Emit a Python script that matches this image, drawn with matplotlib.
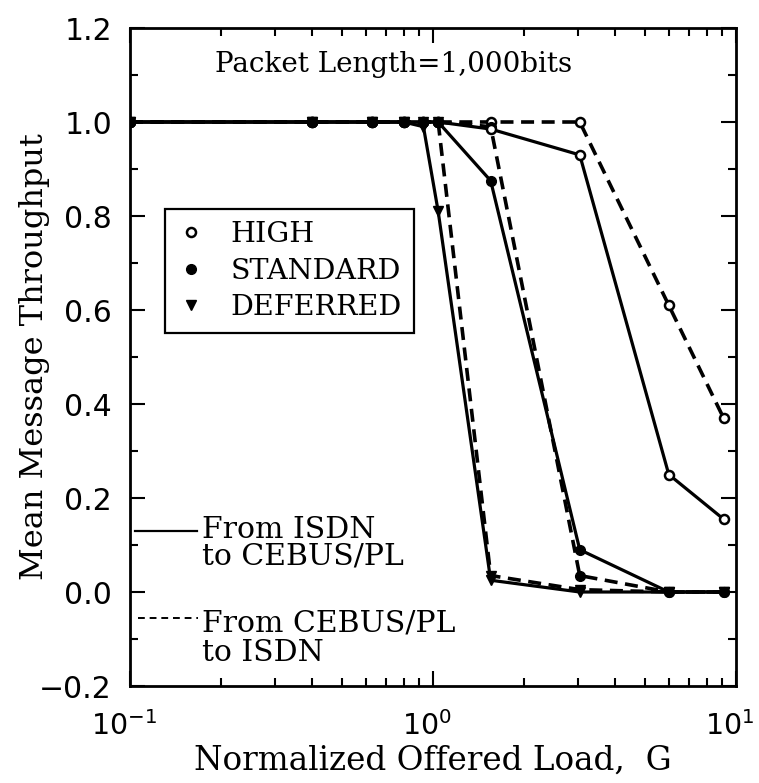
import matplotlib
matplotlib.use("Agg")
import matplotlib.pyplot as plt
import matplotlib.transforms as mtransforms
from matplotlib.ticker import FixedLocator, FuncFormatter, LogLocator, NullFormatter
from matplotlib.lines import Line2D

# Normalized offered load G at which throughput was evaluated
load = [0.1, 0.4, 0.63, 0.8, 0.93, 1.04, 1.55, 3.05, 6.0, 9.1]

# Mean message throughput, ISDN -> CEBUS/PL (solid)
high_isdn = [1.0, 1.0, 1.0, 1.0, 1.0, 1.0, 0.985, 0.93, 0.25, 0.155]
std_isdn = [1.0, 1.0, 1.0, 1.0, 1.0, 1.0, 0.875, 0.09, 0.0, 0.0]
def_isdn = [1.0, 1.0, 1.0, 1.0, 0.99, 0.81, 0.025, 0.0, 0.0, 0.0]

# Mean message throughput, CEBUS/PL -> ISDN (dashed)
high_cebus = [1.0, 1.0, 1.0, 1.0, 1.0, 1.0, 1.0, 1.0, 0.61, 0.37]
std_cebus = [1.0, 1.0, 1.0, 1.0, 1.0, 1.0, 0.99, 0.035, 0.0, 0.0]
def_cebus = [1.0, 1.0, 1.0, 1.0, 1.0, 1.0, 0.035, 0.005, 0.0, 0.0]

priorities = ["HIGH", "STANDARD", "DEFERRED"]
y_ticks = [-0.2, 0.0, 0.2, 0.4, 0.6, 0.8, 1.0, 1.2]

SERIF = "DejaVu Serif"
LW = 2.3

fig = plt.figure(figsize=(7.59, 7.83), dpi=100)
# plot frame: x 130..736 px, y 28..686 px (from top)
ax = fig.add_axes([130 / 759, 1 - 686 / 783, 606 / 759, 658 / 783])
ax.set_xscale("log")
ax.set_xlim(0.1, 10)
ax.set_ylim(-0.2, 1.2)

styles = {
    "HIGH": dict(marker="o", mfc="white", mec="black", ms=6.5, mew=1.8),
    "STANDARD": dict(marker="o", mfc="black", mec="black", ms=7),
    "DEFERRED": dict(marker="v", mfc="black", mec="black", ms=7),
}

dashed = [high_cebus, std_cebus, def_cebus]
solid = [high_isdn, std_isdn, def_isdn]
for name, vals in zip(priorities, dashed):
    ax.plot(load, vals, color="black", lw=LW + 0.3, ls=(0, (3.6, 2.1)), **styles[name], zorder=3)
for name, vals in zip(priorities, solid):
    ax.plot(load, vals, color="black", lw=LW, ls="-", **styles[name], zorder=4)

# frame and ticks
for sp in ax.spines.values():
    sp.set_linewidth(2.0)
ax.yaxis.set_major_locator(FixedLocator(y_ticks))
ax.yaxis.set_minor_locator(FixedLocator([v / 10 for v in range(-2, 13)]))
ax.yaxis.set_major_formatter(FuncFormatter(lambda v, p: f"{v:.1f}".replace("-", "\u2212")))
ax.xaxis.set_major_locator(LogLocator(base=10, numticks=10))
ax.xaxis.set_minor_locator(LogLocator(base=10, subs=range(2, 10), numticks=10))
ax.xaxis.set_minor_formatter(NullFormatter())
ax.tick_params(which="both", direction="in", top=True, right=True, width=1.5)
ax.tick_params(which="major", length=11)
ax.tick_params(axis="y", which="major", pad=13, labelsize=21.5)
ax.tick_params(axis="x", which="major", pad=18, labelsize=20.5)
ax.tick_params(which="minor", length=6)

# nudge decade labels left so the last one stays inside the canvas
shift = mtransforms.ScaledTranslation(-6 / 100, 0, fig.dpi_scale_trans)
for lbl in ax.get_xticklabels():
    lbl.set_transform(lbl.get_transform() + shift)

ax.set_xlabel("Normalized Offered Load,  G", family=SERIF, fontsize=23.5, labelpad=3)
ax.set_ylabel("Mean Message Throughput", family=SERIF, fontsize=23)
ax.yaxis.set_label_coords((50 - 130) / 606, 0.5)

ax.text((215 - 130) / 606, (686 - 64) / 658, "Packet Length=1,000bits",
        transform=ax.transAxes, family=SERIF, fontsize=20, ha="left", va="center")

# priority legend (markers only)
handles = [Line2D([], [], ls="none", color="black", **styles[n]) for n in priorities]
leg = ax.legend(handles, priorities, loc="upper left",
                bbox_to_anchor=((165 - 130) / 606, (686 - 209) / 658),
                borderaxespad=0, frameon=True, fancybox=False, edgecolor="black",
                framealpha=1, handlelength=1.0, handletextpad=0.88, borderpad=0.42,
                labelspacing=0.34, prop=dict(family=SERIF, size=20.5))
leg.get_frame().set_linewidth(1.6)

# line-style key
def key_text(x, y, s):
    ax.text(x, y, s, transform=ax.transAxes, family=SERIF, fontsize=21.5,
            ha="left", va="baseline")

ax.plot([0.0083, 0.1106], [0.2356, 0.2356], transform=ax.transAxes, color="black", lw=1.6)
key_text(0.1188, 0.2249, "From ISDN")
key_text(0.1188, 0.1839, "to CEBUS/PL")
ax.plot([0.0132, 0.112], [0.1033, 0.1033], transform=ax.transAxes, color="black", lw=1.4,
        ls=(0, (3.5, 2.5)))
key_text(0.1188, 0.0821, "From CEBUS/PL")
key_text(0.1188, 0.0380, "to ISDN")

fig.savefig("out.png", dpi=100)
